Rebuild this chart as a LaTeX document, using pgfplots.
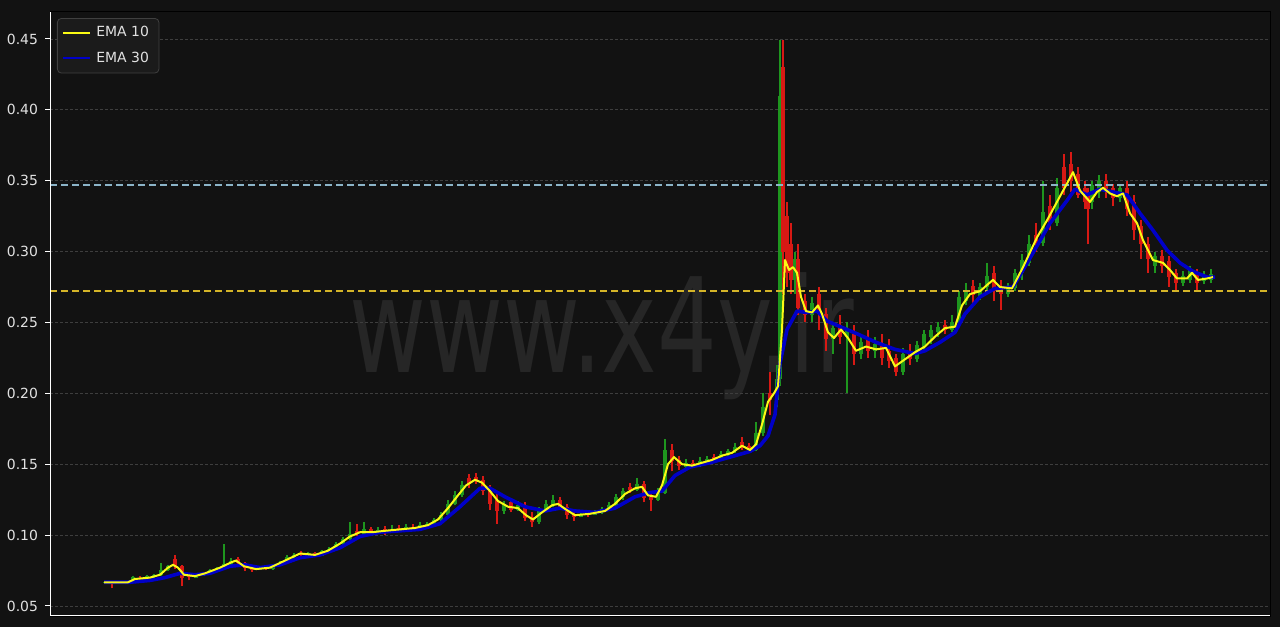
\documentclass[border=0pt]{standalone}
\usepackage{fontspec}
\setmainfont{DejaVu Sans}
\usepackage{pgfplots}
\usepackage{pgfplotstable}
\pgfplotsset{compat=1.18}

\definecolor{bgdark}{RGB}{18,18,18}
\definecolor{wmark}{RGB}{38,38,38}
\definecolor{gridc}{RGB}{62,62,62}
\definecolor{txt}{RGB}{225,225,225}
\definecolor{candred}{RGB}{215,25,20}
\definecolor{candgreen}{RGB}{30,150,30}
\definecolor{emayellow}{RGB}{250,250,20}
\definecolor{emablue}{RGB}{0,0,200}
\definecolor{lvlblue}{RGB}{140,180,200}
\definecolor{lvlyellow}{RGB}{212,180,40}
\definecolor{legbg}{RGB}{27,27,27}
\definecolor{legedge}{RGB}{64,64,64}

% candles: x (pixel column), open, high, low, close
\pgfplotstableread{
x o h l c
105 .0665 .0672 .0660 .0668
119 .0664 .0670 .0655 .0668
133 .0665 .0712 .0662 .0705
147 .0695 .0715 .0690 .0708
154 .0708 .0722 .0700 .0715
161 .0715 .0800 .0712 .0752
168 .0752 .0790 .0745 .0780
196 .0700 .0725 .0695 .0712
203 .0712 .0738 .0708 .0730
210 .0730 .0760 .0725 .0750
217 .0750 .0775 .0745 .0770
224 .0770 .0935 .0765 .0795
231 .0795 .0835 .0790 .0820
259 .0755 .0775 .0750 .0765
273 .0760 .0790 .0755 .0785
280 .0785 .0815 .0780 .0805
287 .0805 .0860 .0800 .0845
294 .0845 .0875 .0835 .0860
308 .0860 .0880 .0850 .0870
322 .0855 .0895 .0850 .0885
329 .0885 .0915 .0880 .0905
336 .0905 .0950 .0898 .0935
343 .0935 .0985 .0925 .0975
350 .0975 .1090 .0965 .1010
364 .1010 .1090 .1005 .1040
378 .1010 .1060 .1005 .1035
392 .1020 .1070 .1015 .1045
406 .1035 .1080 .1030 .1055
420 .1045 .1090 .1040 .1070
427 .1065 .1095 .1055 .1080
434 .1080 .1120 .1070 .1105
441 .1105 .1160 .1100 .1140
448 .1140 .1250 .1135 .1220
455 .1220 .1310 .1210 .1280
462 .1280 .1380 .1270 .1350
504 .1170 .1240 .1150 .1220
518 .1180 .1240 .1170 .1210
539 .1090 .1200 .1080 .1170
546 .1170 .1250 .1160 .1220
553 .1210 .1280 .1200 .1250
581 .1130 .1170 .1125 .1150
595 .1145 .1180 .1140 .1160
602 .1160 .1200 .1150 .1185
609 .1185 .1230 .1175 .1215
616 .1215 .1290 .1205 .1270
623 .1270 .1330 .1250 .1310
637 .1320 .1400 .1310 .1360
658 .1250 .1330 .1240 .1300
665 .1300 .1680 .1290 .1600
686 .1480 .1540 .1470 .1510
700 .1490 .1550 .1480 .1520
707 .1515 .1560 .1505 .1540
721 .1530 .1590 .1525 .1570
728 .1565 .1610 .1555 .1590
735 .1590 .1650 .1580 .1620
756 .1600 .1800 .1590 .1720
763 .1720 .2000 .1700 .1900
777 .1950 .2200 .1900 .2100
780 .2100 .4490 .2050 .4100
795 .2800 .3000 .2700 .2950
812 .2550 .2680 .2500 .2640
833 .2380 .2500 .2280 .2460
847 .2400 .2500 .2000 .2450
861 .2280 .2420 .2240 .2360
875 .2300 .2400 .2250 .2350
903 .2150 .2320 .2130 .2280
917 .2240 .2370 .2220 .2340
924 .2330 .2450 .2300 .2420
931 .2400 .2480 .2350 .2450
938 .2430 .2500 .2400 .2470
952 .2450 .2550 .2430 .2500
959 .2500 .2720 .2480 .2680
966 .2650 .2780 .2620 .2720
980 .2680 .2780 .2660 .2750
987 .2750 .2920 .2700 .2830
1008 .2700 .2780 .2680 .2760
1015 .2740 .2880 .2720 .2850
1022 .2850 .2980 .2800 .2940
1029 .2920 .3120 .2900 .3050
1043 .3060 .3500 .3040 .3280
1057 .3200 .3520 .3180 .3450
1092 .3350 .3500 .3300 .3470
1099 .3420 .3540 .3380 .3500
1120 .3380 .3480 .3350 .3450
1155 .2900 .3000 .2850 .2970
1183 .2780 .2860 .2760 .2830
1190 .2800 .2900 .2780 .2870
1204 .2790 .2860 .2770 .2830
1211 .2800 .2880 .2780 .2840
}\greencandles

\pgfplotstableread{
x o h l c
112 .0670 .0672 .0630 .0664
126 .0668 .0671 .0652 .0662
140 .0700 .0712 .0688 .0695
175 .0830 .0860 .0760 .0780
182 .0780 .0790 .0640 .0700
189 .0720 .0735 .0680 .0705
238 .0830 .0845 .0790 .0800
245 .0800 .0810 .0745 .0765
252 .0770 .0785 .0740 .0755
266 .0768 .0778 .0752 .0760
301 .0870 .0885 .0850 .0860
315 .0870 .0878 .0845 .0855
357 .1030 .1080 .0990 .1010
371 .1040 .1055 .0995 .1010
385 .1040 .1065 .1000 .1020
399 .1050 .1070 .1020 .1035
413 .1060 .1075 .1030 .1045
469 .1400 .1430 .1330 .1360
476 .1410 .1440 .1360 .1380
483 .1390 .1420 .1280 .1310
490 .1320 .1350 .1180 .1220
497 .1250 .1290 .1080 .1170
511 .1230 .1260 .1160 .1180
525 .1210 .1230 .1100 .1120
532 .1130 .1160 .1060 .1090
560 .1250 .1270 .1180 .1200
567 .1200 .1220 .1110 .1140
574 .1150 .1170 .1100 .1130
588 .1160 .1170 .1130 .1145
630 .1340 .1370 .1300 .1320
644 .1360 .1380 .1230 .1260
651 .1270 .1300 .1170 .1250
672 .1600 .1640 .1450 .1520
679 .1530 .1560 .1460 .1490
693 .1510 .1530 .1470 .1490
714 .1550 .1570 .1510 .1530
742 .1660 .1690 .1600 .1620
749 .1630 .1650 .1580 .1600
770 .2000 .2150 .1850 .1950
783 .4300 .4490 .2700 .3000
787 .3250 .3350 .2750 .2850
791 .3050 .3200 .2700 .2800
798 .2950 .3050 .2550 .2600
805 .2650 .2700 .2500 .2550
819 .2700 .2750 .2450 .2580
826 .2560 .2600 .2300 .2380
840 .2480 .2550 .2350 .2400
854 .2420 .2480 .2200 .2280
868 .2380 .2450 .2250 .2300
882 .2350 .2420 .2200 .2250
889 .2300 .2380 .2180 .2230
896 .2250 .2280 .2120 .2150
910 .2300 .2350 .2200 .2240
945 .2480 .2520 .2420 .2450
973 .2760 .2800 .2640 .2690
994 .2850 .2900 .2650 .2720
1001 .2760 .2800 .2590 .2700
1036 .3120 .3200 .3000 .3060
1050 .3320 .3400 .3150 .3200
1064 .3600 .3690 .3400 .3450
1071 .3620 .3700 .3420 .3500
1078 .3550 .3600 .3380 .3400
1085 .3450 .3500 .3300 .3350
1088 .3400 .3450 .3050 .3300
1106 .3500 .3550 .3380 .3420
1113 .3450 .3480 .3320 .3380
1127 .3450 .3500 .3250 .3300
1134 .3350 .3400 .3080 .3150
1141 .3180 .3220 .2950 .3050
1148 .3050 .3100 .2850 .2950
1162 .2970 .3010 .2850 .2900
1169 .2930 .2970 .2750 .2820
1176 .2850 .2880 .2720 .2780
1197 .2850 .2880 .2720 .2780
}\redcandles

\pgfplotsset{
  candle/.style 2 args={forget plot, draw=none, mark=none,
    error bars/.cd, y dir=plus, y explicit, error mark=none,
    error bar style={draw=#1, line width=#2}},
}

\begin{document}
\begin{tikzpicture}
\fill[bgdark] (0,0) rectangle (640bp,313.5bp);
\node[text=wmark, font=\fontsize{66}{70}\selectfont, xscale=0.715, anchor=base] at (301bp,127bp) {www.x4y.ir};
\begin{axis}[
  at={(25bp,5.5bp)}, anchor=south west,
  scale only axis, width=610bp, height=302bp,
  xmin=50, xmax=1270, ymin=0.0429, ymax=0.469,
  xtick=\empty, ytick pos=left,
  ytick={0.05,0.10,0.15,0.20,0.25,0.30,0.35,0.40,0.45},
  yticklabel style={/pgf/number format/.cd, fixed, fixed zerofill, precision=2, assume math mode=true},
  tick label style={text=txt, font=\fontsize{7}{8.5}\selectfont},
  tick align=outside, major tick length=2.5bp,
  tick style={white, line width=0.5bp},
  ymajorgrids, grid style={gridc, line width=0.4bp, dash pattern=on 1.5bp off 1bp},
  axis line style={black, line width=0.5bp},
  legend style={fill=legbg, draw=legedge, rounded corners=2bp, text=txt,
    font=\fontsize{7}{8.5}\selectfont, at={(0.0057,0.99)}, anchor=north west,
    inner xsep=2.5bp, inner ysep=2bp, row sep=2bp,
    nodes={inner xsep=2.5bp}},
  legend cell align=left,
  legend image code/.code={\draw[#1] (0bp,0bp) -- (13.5bp,0bp);},
]
% wicks
\addplot[candle={candgreen}{0.6bp}]
  table[x=x, y=l, y error plus expr=\thisrow{h}-\thisrow{l}] {\greencandles};
\addplot[candle={candred}{0.6bp}]
  table[x=x, y=l, y error plus expr=\thisrow{h}-\thisrow{l}] {\redcandles};
% bodies
\addplot[candle={candgreen}{2bp}]
  table[x=x, y=o, y error plus expr=\thisrow{c}-\thisrow{o}] {\greencandles};
\addplot[candle={candred}{2bp}]
  table[x=x, y=c, y error plus expr=\thisrow{o}-\thisrow{c}] {\redcandles};
% levels
\addplot[forget plot, lvlblue, line width=0.9bp, dash pattern=on 3.5bp off 2bp] coordinates {(50,0.347) (1270,0.347)};
\addplot[forget plot, lvlyellow, line width=0.9bp, dash pattern=on 3.5bp off 2bp] coordinates {(50,0.272) (1270,0.272)};
% EMA 30 drawn first, EMA 10 on top
\addplot[forget plot, emablue, line width=1.8bp, line join=round] coordinates {
(104,0.0667) (130,0.0667) (150,0.068) (165,0.070) (180,0.073) (195,0.072) (210,0.073) (230,0.078)
(245,0.079) (260,0.077) (280,0.079) (300,0.084) (320,0.086) (340,0.091) (360,0.099) (380,0.102)
(400,0.103) (420,0.104) (440,0.108) (460,0.120) (480,0.133) (490,0.133) (505,0.127) (525,0.120)
(545,0.117) (560,0.119) (575,0.117) (595,0.116) (615,0.119) (635,0.127) (650,0.130) (662,0.131)
(675,0.142) (690,0.148) (710,0.151) (730,0.155) (750,0.159) (760,0.163) (768,0.170) (775,0.185)
(780,0.221) (787,0.245) (797,0.258) (807,0.257) (817,0.258) (827,0.251) (837,0.248) (847,0.245)
(857,0.242) (876,0.236) (895,0.231) (915,0.228) (925,0.230) (940,0.236) (955,0.243) (965,0.256)
(980,0.268) (995,0.274) (1013,0.275) (1033,0.299) (1050,0.320) (1067,0.336) (1075,0.344) (1087,0.340)
(1100,0.344) (1120,0.341) (1127,0.340) (1140,0.327) (1153,0.315) (1167,0.301) (1180,0.292) (1193,0.286)
(1207,0.282) (1215,0.282)};
\addplot[emayellow, line width=1bp, line join=round] coordinates {
(104,0.0667) (128,0.0667) (135,0.069) (150,0.070) (160,0.072) (168,0.077) (173,0.079) (178,0.077)
(184,0.072) (195,0.071) (205,0.073) (220,0.077) (232,0.081) (236,0.082) (244,0.078) (256,0.076)
(270,0.077) (285,0.082) (300,0.087) (315,0.086) (328,0.089) (340,0.094) (350,0.099) (360,0.102)
(372,0.102) (385,0.103) (400,0.104) (415,0.105) (428,0.107) (438,0.111) (448,0.119) (458,0.128)
(466,0.135) (475,0.139) (482,0.137) (490,0.131) (498,0.124) (508,0.120) (518,0.119) (526,0.114)
(533,0.111) (542,0.116) (552,0.121) (558,0.122) (566,0.118) (575,0.114) (590,0.115) (605,0.117)
(615,0.122) (625,0.129) (635,0.133) (642,0.134) (648,0.128) (656,0.127) (662,0.135) (668,0.150)
(674,0.155) (682,0.150) (692,0.149) (702,0.151) (712,0.153) (722,0.156) (732,0.158) (742,0.163)
(750,0.160) (756,0.164) (762,0.178) (768,0.194) (774,0.200) (778,0.205) (782,0.245) (785,0.294)
(789,0.287) (793,0.289) (797,0.285) (801,0.268) (806,0.258) (812,0.257) (818,0.262) (822,0.256)
(828,0.243) (834,0.239) (841,0.245) (848,0.239) (856,0.230) (866,0.233) (876,0.231) (886,0.232)
(895,0.219) (905,0.224) (915,0.229) (925,0.233) (935,0.240) (945,0.246) (955,0.247) (962,0.262)
(970,0.270) (980,0.272) (988,0.277) (993,0.280) (1000,0.275) (1012,0.274) (1023,0.289) (1037,0.310)
(1047,0.322) (1060,0.339) (1067,0.348) (1073,0.356) (1080,0.343) (1090,0.335) (1097,0.342) (1103,0.345)
(1110,0.341) (1117,0.339) (1123,0.341) (1130,0.327) (1137,0.320) (1143,0.308) (1153,0.294) (1163,0.292)
(1170,0.287) (1177,0.281) (1187,0.281) (1192,0.285) (1198,0.280) (1207,0.281) (1213,0.282)};
\addlegendentry{EMA 10}
\addlegendimage{emablue, line width=1bp}
\addlegendentry{EMA 30}
\draw[white, line width=0.75bp] (rel axis cs:0,1) -- (rel axis cs:0,0) -- (rel axis cs:1,0);
\end{axis}
\pgfresetboundingbox
\useasboundingbox (0,0) rectangle (640bp,313.5bp);
\end{tikzpicture}
\end{document}
